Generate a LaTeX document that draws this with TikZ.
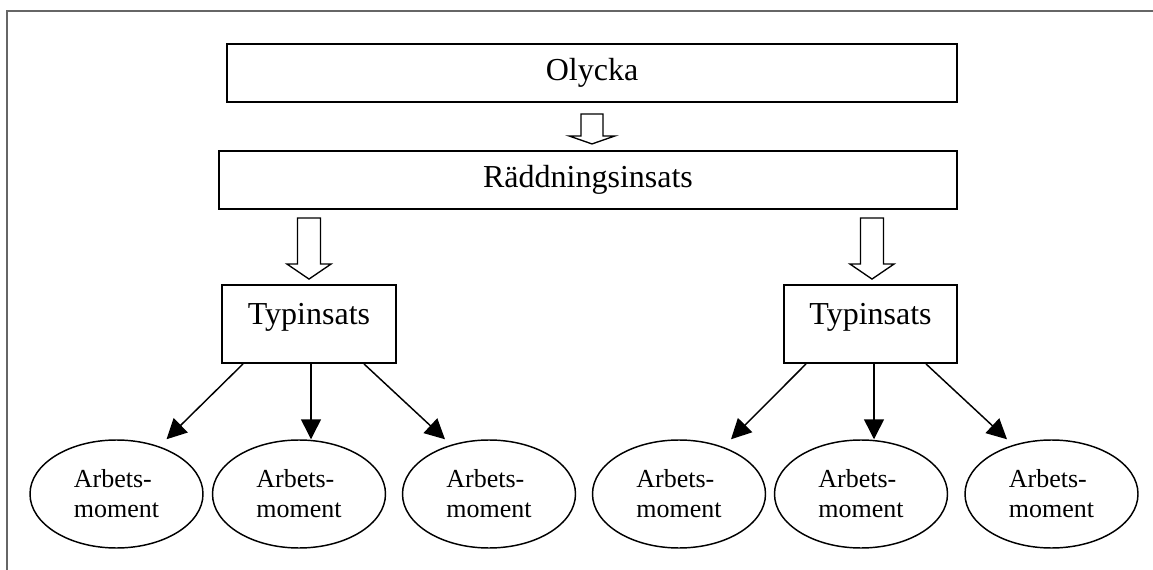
\documentclass[tikz,border=0pt]{standalone}
\usepackage{fontspec}
\setmainfont{Liberation Serif}
\usepackage{tikz}
\usetikzlibrary{shapes,arrows.meta}
\usetikzlibrary{positioning,calc}

\tikzset{
  box/.style={draw, line width=1.4pt, inner sep=0pt, minimum height=43.5pt, font=\fontsize{24}{28}\selectfont},
  typbox/.style={box, minimum width=130pt, minimum height=58.5pt, text depth=15pt},
  moment/.style={draw, ellipse, line width=1.1pt, inner sep=0pt, minimum width=129.75pt, minimum height=81pt, align=left, font=\fontsize{19.5}{22.5}\selectfont},
  blockarr/.style={draw, line width=1pt, fill=white},
  arr/.style={-{Triangle[length=15pt,width=15pt]}, line width=1.1pt}
}

\begin{document}
\begin{tikzpicture}[x=0.75pt,y=-0.75pt]
\useasboundingbox (0,0) rectangle (1153,570);
\draw[black!60, line width=1.5pt] (7,570) -- (7,11) -- (1153,11); % frame

\node[box, minimum width=547.5pt] (olycka) at (592,73) {Olycka};
\node[box, minimum width=553.5pt] (radd) at (588,180) {Räddningsinsats};
\node[typbox] (typL) at (309,324) {Typinsats};
\node[typbox] (typR) at (870.5,324) {Typinsats};

\node[moment] (m1) at (116.5,494) {Arbets-\\moment};
\node[moment] (m2) at (299,494) {Arbets-\\moment};
\node[moment] (m3) at (489,494) {Arbets-\\moment};
\node[moment] (m4) at (679,494) {Arbets-\\moment};
\node[moment] (m5) at (861,494) {Arbets-\\moment};
\node[moment] (m6) at (1051.5,494) {Arbets-\\moment};

% block arrows
\draw[blockarr] ($(olycka.south)+(-11,11)$) -- ++(22,0) -- ++(0,22) -- ++(12,0) -- ++(-23,8) -- ++(-23,-8) -- ++(12,0) -- cycle;
\draw[blockarr] ($(typL.north)+(-11.5,-66)$) -- ++(23,0) -- ++(0,46) -- ++(10.5,0) -- ++(-22,15) -- ++(-22,-15) -- ++(10.5,0) -- cycle;
\draw[blockarr] ($(typR.north)+(-10,-66)$) -- ++(23,0) -- ++(0,46) -- ++(10.5,0) -- ++(-22,15) -- ++(-22,-15) -- ++(10.5,0) -- cycle;

% Typinsats -> Arbetsmoment
\draw[arr] ($(typL.south)+(-66,0)$) -- ($(m1.north)+(50,0)$);
\draw[arr] ($(typL.south)+(2,0)$) -- ($(m2.north)+(12,0)$);
\draw[arr] ($(typL.south)+(55,0)$) -- ($(m3.north)+(-44,0)$);
\draw[arr] ($(typR.south)+(-64.5,0)$) -- ($(m4.north)+(52,0)$);
\draw[arr] ($(typR.south)+(3.5,0)$) -- ($(m5.north)+(13,0)$);
\draw[arr] ($(typR.south)+(55.5,0)$) -- ($(m6.north)+(-44.5,0)$);
\end{tikzpicture}
\end{document}
